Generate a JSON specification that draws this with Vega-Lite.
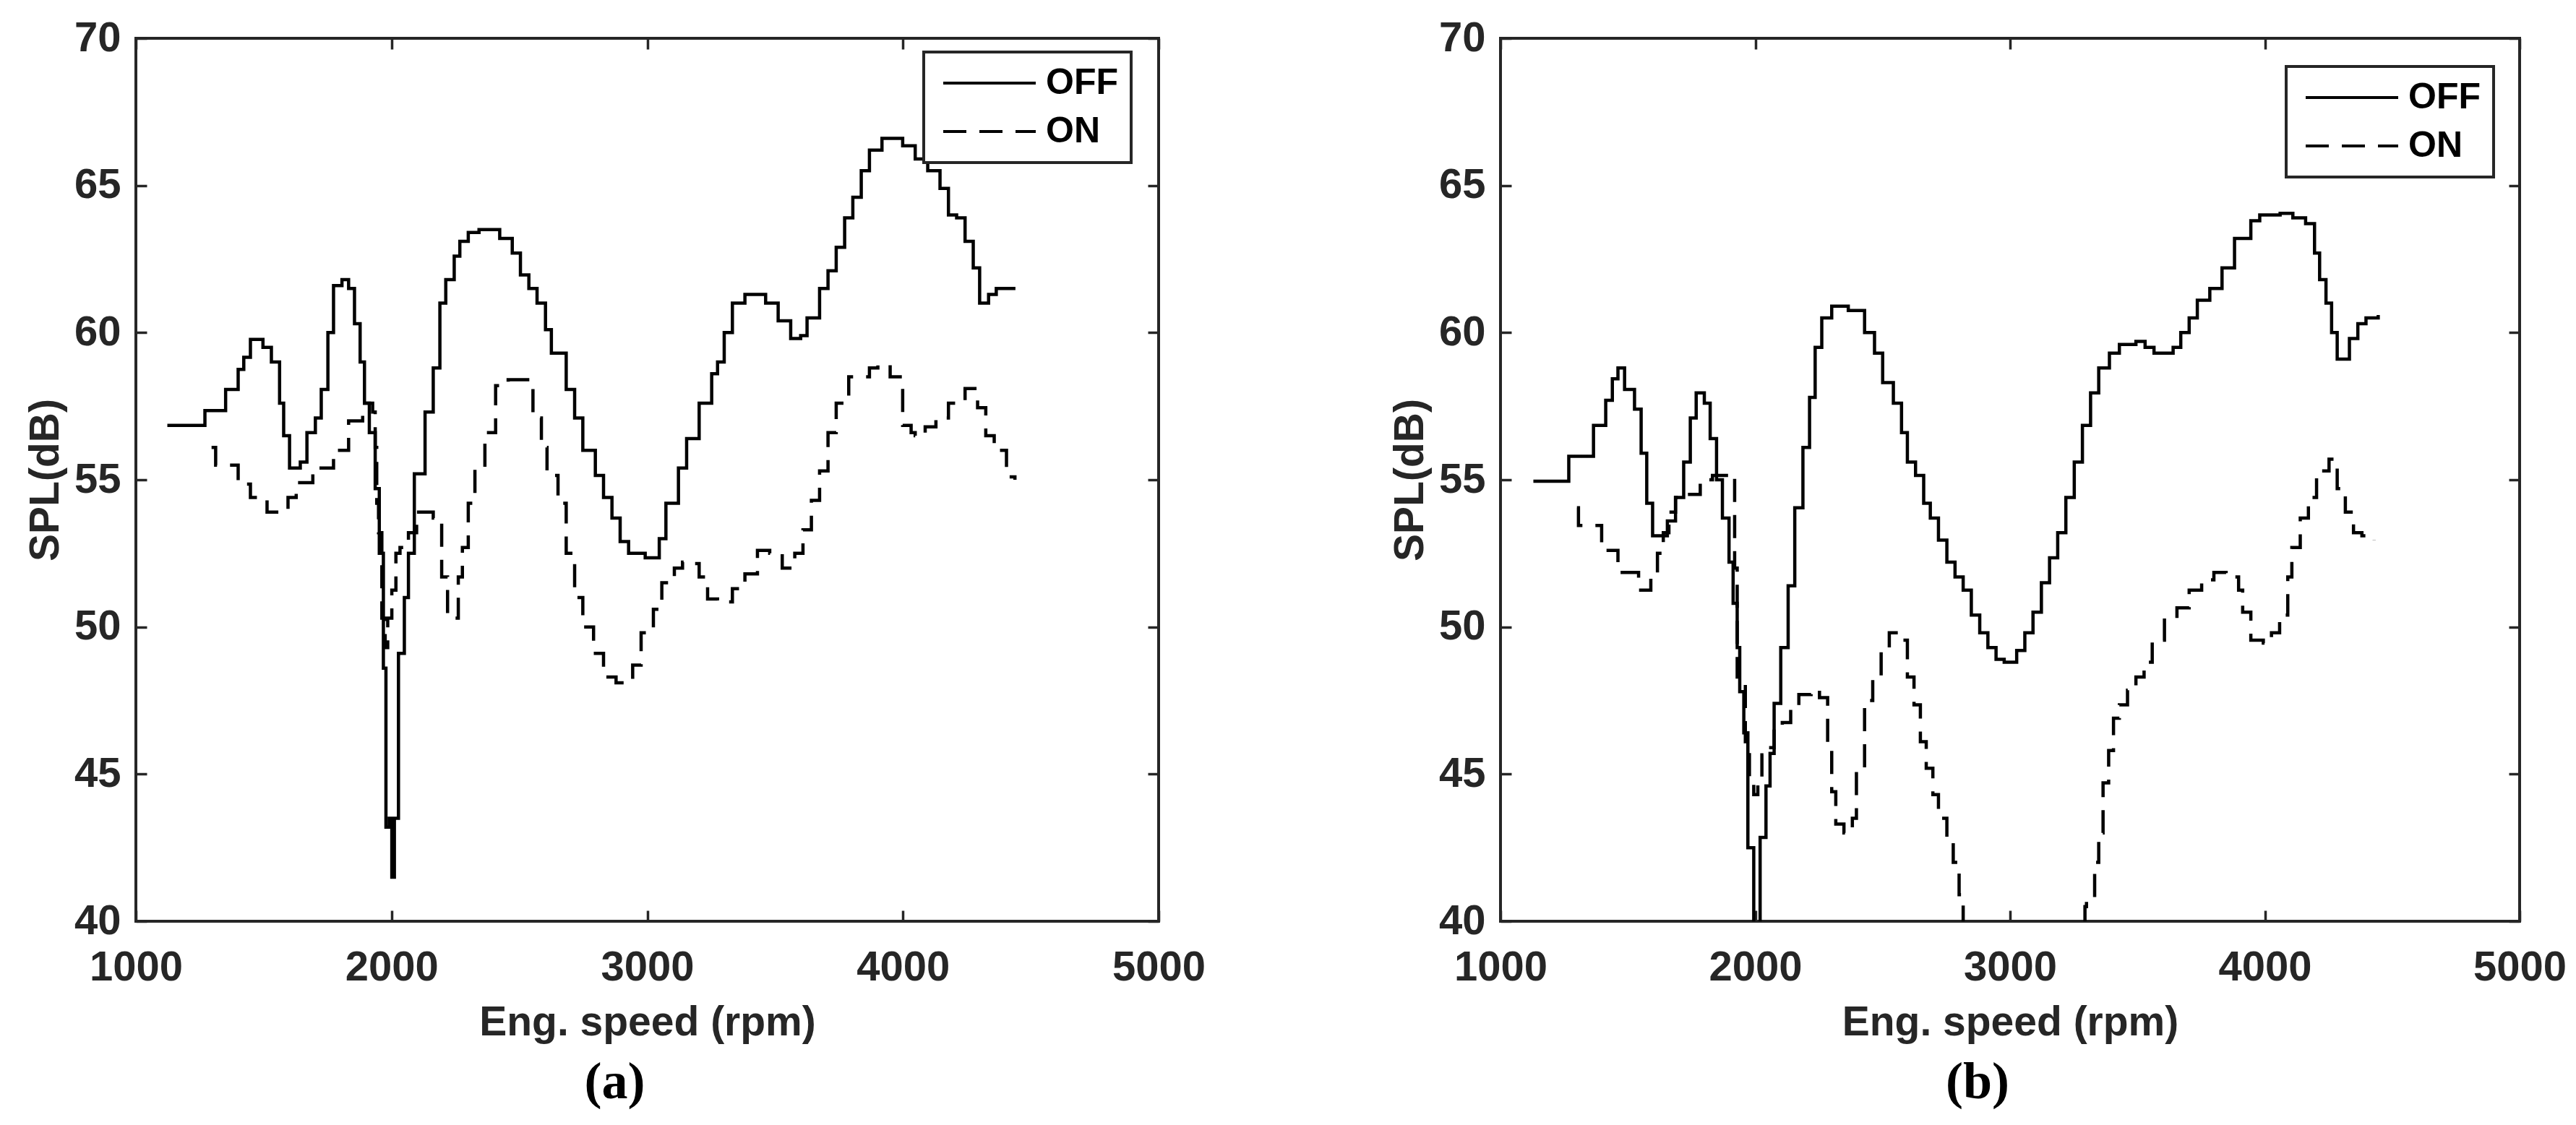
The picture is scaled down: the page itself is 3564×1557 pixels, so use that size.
{
  "$schema": "https://vega.github.io/schema/vega-lite/v6.json",
  "padding": {"left": 32, "top": 22, "right": 10, "bottom": 10},
  "background": "white",
  "datasets": {
    "a": [
      {"rpm": 1123, "spl": 56.85, "series": "OFF"}, {"rpm": 1270, "spl": 57.35, "series": "OFF"}, {"rpm": 1351, "spl": 58.07, "series": "OFF"}, {"rpm": 1400, "spl": 58.75, "series": "OFF"}, {"rpm": 1422, "spl": 59.16, "series": "OFF"}, {"rpm": 1448, "spl": 59.77, "series": "OFF"}, {"rpm": 1497, "spl": 59.5, "series": "OFF"}, {"rpm": 1530, "spl": 59.0, "series": "OFF"}, {"rpm": 1562, "spl": 57.6, "series": "OFF"}, {"rpm": 1578, "spl": 56.5, "series": "OFF"}, {"rpm": 1601, "spl": 55.4, "series": "OFF"}, {"rpm": 1643, "spl": 55.6, "series": "OFF"}, {"rpm": 1669, "spl": 56.6, "series": "OFF"}, {"rpm": 1702, "spl": 57.1, "series": "OFF"}, {"rpm": 1725, "spl": 58.07, "series": "OFF"}, {"rpm": 1751, "spl": 60.0, "series": "OFF"}, {"rpm": 1773, "spl": 61.6, "series": "OFF"}, {"rpm": 1806, "spl": 61.8, "series": "OFF"}, {"rpm": 1832, "spl": 61.5, "series": "OFF"}, {"rpm": 1855, "spl": 60.3, "series": "OFF"}, {"rpm": 1877, "spl": 59.0, "series": "OFF"}, {"rpm": 1894, "spl": 57.6, "series": "OFF"}, {"rpm": 1913, "spl": 56.6, "series": "OFF"}, {"rpm": 1936, "spl": 54.7, "series": "OFF"}, {"rpm": 1952, "spl": 52.5, "series": "OFF"}, {"rpm": 1968, "spl": 48.6, "series": "OFF"}, {"rpm": 1978, "spl": 43.2, "series": "OFF"}, {"rpm": 1991, "spl": 43.5, "series": "OFF"}, {"rpm": 2001, "spl": 41.5, "series": "OFF"}, {"rpm": 2011, "spl": 43.5, "series": "OFF"}, {"rpm": 2027, "spl": 49.1, "series": "OFF"}, {"rpm": 2050, "spl": 51.0, "series": "OFF"}, {"rpm": 2066, "spl": 52.5, "series": "OFF"}, {"rpm": 2089, "spl": 55.2, "series": "OFF"}, {"rpm": 2131, "spl": 57.3, "series": "OFF"}, {"rpm": 2163, "spl": 58.8, "series": "OFF"}, {"rpm": 2189, "spl": 61.0, "series": "OFF"}, {"rpm": 2212, "spl": 61.8, "series": "OFF"}, {"rpm": 2245, "spl": 62.6, "series": "OFF"}, {"rpm": 2267, "spl": 63.1, "series": "OFF"}, {"rpm": 2300, "spl": 63.4, "series": "OFF"}, {"rpm": 2342, "spl": 63.5, "series": "OFF"}, {"rpm": 2423, "spl": 63.2, "series": "OFF"}, {"rpm": 2472, "spl": 62.7, "series": "OFF"}, {"rpm": 2504, "spl": 61.96, "series": "OFF"}, {"rpm": 2537, "spl": 61.5, "series": "OFF"}, {"rpm": 2569, "spl": 61.0, "series": "OFF"}, {"rpm": 2602, "spl": 60.1, "series": "OFF"}, {"rpm": 2625, "spl": 59.3, "series": "OFF"}, {"rpm": 2683, "spl": 58.07, "series": "OFF"}, {"rpm": 2716, "spl": 57.1, "series": "OFF"}, {"rpm": 2748, "spl": 56.0, "series": "OFF"}, {"rpm": 2797, "spl": 55.15, "series": "OFF"}, {"rpm": 2829, "spl": 54.4, "series": "OFF"}, {"rpm": 2862, "spl": 53.7, "series": "OFF"}, {"rpm": 2894, "spl": 52.9, "series": "OFF"}, {"rpm": 2927, "spl": 52.5, "series": "OFF"}, {"rpm": 2992, "spl": 52.35, "series": "OFF"}, {"rpm": 3047, "spl": 53.0, "series": "OFF"}, {"rpm": 3073, "spl": 54.2, "series": "OFF"}, {"rpm": 3122, "spl": 55.4, "series": "OFF"}, {"rpm": 3154, "spl": 56.4, "series": "OFF"}, {"rpm": 3203, "spl": 57.6, "series": "OFF"}, {"rpm": 3252, "spl": 58.6, "series": "OFF"}, {"rpm": 3275, "spl": 59.0, "series": "OFF"}, {"rpm": 3301, "spl": 60.0, "series": "OFF"}, {"rpm": 3333, "spl": 61.0, "series": "OFF"}, {"rpm": 3382, "spl": 61.3, "series": "OFF"}, {"rpm": 3463, "spl": 61.0, "series": "OFF"}, {"rpm": 3512, "spl": 60.4, "series": "OFF"}, {"rpm": 3561, "spl": 59.8, "series": "OFF"}, {"rpm": 3600, "spl": 59.9, "series": "OFF"}, {"rpm": 3625, "spl": 60.5, "series": "OFF"}, {"rpm": 3674, "spl": 61.5, "series": "OFF"}, {"rpm": 3707, "spl": 62.1, "series": "OFF"}, {"rpm": 3739, "spl": 62.9, "series": "OFF"}, {"rpm": 3772, "spl": 63.9, "series": "OFF"}, {"rpm": 3804, "spl": 64.6, "series": "OFF"}, {"rpm": 3837, "spl": 65.5, "series": "OFF"}, {"rpm": 3869, "spl": 66.2, "series": "OFF"}, {"rpm": 3918, "spl": 66.6, "series": "OFF"}, {"rpm": 3999, "spl": 66.35, "series": "OFF"}, {"rpm": 4048, "spl": 65.9, "series": "OFF"}, {"rpm": 4097, "spl": 65.5, "series": "OFF"}, {"rpm": 4145, "spl": 64.9, "series": "OFF"}, {"rpm": 4178, "spl": 64.0, "series": "OFF"}, {"rpm": 4210, "spl": 63.9, "series": "OFF"}, {"rpm": 4243, "spl": 63.1, "series": "OFF"}, {"rpm": 4275, "spl": 62.2, "series": "OFF"}, {"rpm": 4300, "spl": 61.0, "series": "OFF"}, {"rpm": 4335, "spl": 61.3, "series": "OFF"}, {"rpm": 4365, "spl": 61.5, "series": "OFF"}, {"rpm": 4440, "spl": 61.5, "series": "OFF"},
      {"rpm": 1296, "spl": 56.1, "series": "ON"}, {"rpm": 1312, "spl": 55.5, "series": "ON"}, {"rpm": 1400, "spl": 54.85, "series": "ON"}, {"rpm": 1448, "spl": 54.4, "series": "ON"}, {"rpm": 1513, "spl": 53.9, "series": "ON"}, {"rpm": 1595, "spl": 54.4, "series": "ON"}, {"rpm": 1627, "spl": 54.9, "series": "ON"}, {"rpm": 1692, "spl": 55.4, "series": "ON"}, {"rpm": 1773, "spl": 56.0, "series": "ON"}, {"rpm": 1832, "spl": 57.0, "series": "ON"}, {"rpm": 1887, "spl": 57.6, "series": "ON"}, {"rpm": 1926, "spl": 57.3, "series": "ON"}, {"rpm": 1936, "spl": 56.1, "series": "ON"}, {"rpm": 1942, "spl": 54.2, "series": "ON"}, {"rpm": 1949, "spl": 53.2, "series": "ON"}, {"rpm": 1962, "spl": 50.3, "series": "ON"}, {"rpm": 1975, "spl": 49.3, "series": "ON"}, {"rpm": 1985, "spl": 50.3, "series": "ON"}, {"rpm": 2001, "spl": 51.25, "series": "ON"}, {"rpm": 2017, "spl": 52.5, "series": "ON"}, {"rpm": 2033, "spl": 52.7, "series": "ON"}, {"rpm": 2066, "spl": 53.2, "series": "ON"}, {"rpm": 2098, "spl": 53.9, "series": "ON"}, {"rpm": 2163, "spl": 53.7, "series": "ON"}, {"rpm": 2196, "spl": 51.7, "series": "ON"}, {"rpm": 2219, "spl": 50.3, "series": "ON"}, {"rpm": 2261, "spl": 51.7, "series": "ON"}, {"rpm": 2277, "spl": 52.7, "series": "ON"}, {"rpm": 2300, "spl": 54.2, "series": "ON"}, {"rpm": 2326, "spl": 55.4, "series": "ON"}, {"rpm": 2365, "spl": 56.6, "series": "ON"}, {"rpm": 2407, "spl": 58.2, "series": "ON"}, {"rpm": 2456, "spl": 58.4, "series": "ON"}, {"rpm": 2553, "spl": 57.1, "series": "ON"}, {"rpm": 2586, "spl": 56.1, "series": "ON"}, {"rpm": 2608, "spl": 55.15, "series": "ON"}, {"rpm": 2651, "spl": 54.2, "series": "ON"}, {"rpm": 2683, "spl": 52.5, "series": "ON"}, {"rpm": 2716, "spl": 51.0, "series": "ON"}, {"rpm": 2748, "spl": 50.0, "series": "ON"}, {"rpm": 2790, "spl": 49.1, "series": "ON"}, {"rpm": 2829, "spl": 48.3, "series": "ON"}, {"rpm": 2878, "spl": 48.1, "series": "ON"}, {"rpm": 2943, "spl": 48.7, "series": "ON"}, {"rpm": 2976, "spl": 49.8, "series": "ON"}, {"rpm": 3024, "spl": 50.6, "series": "ON"}, {"rpm": 3057, "spl": 51.5, "series": "ON"}, {"rpm": 3106, "spl": 52.0, "series": "ON"}, {"rpm": 3138, "spl": 52.2, "series": "ON"}, {"rpm": 3171, "spl": 52.15, "series": "ON"}, {"rpm": 3203, "spl": 51.7, "series": "ON"}, {"rpm": 3236, "spl": 50.95, "series": "ON"}, {"rpm": 3275, "spl": 50.85, "series": "ON"}, {"rpm": 3333, "spl": 51.3, "series": "ON"}, {"rpm": 3382, "spl": 51.8, "series": "ON"}, {"rpm": 3431, "spl": 52.6, "series": "ON"}, {"rpm": 3479, "spl": 52.5, "series": "ON"}, {"rpm": 3528, "spl": 52.0, "series": "ON"}, {"rpm": 3577, "spl": 52.5, "series": "ON"}, {"rpm": 3609, "spl": 53.3, "series": "ON"}, {"rpm": 3642, "spl": 54.3, "series": "ON"}, {"rpm": 3674, "spl": 55.3, "series": "ON"}, {"rpm": 3707, "spl": 56.6, "series": "ON"}, {"rpm": 3739, "spl": 57.6, "series": "ON"}, {"rpm": 3788, "spl": 58.5, "series": "ON"}, {"rpm": 3869, "spl": 58.8, "series": "ON"}, {"rpm": 3902, "spl": 58.9, "series": "ON"}, {"rpm": 3950, "spl": 58.5, "series": "ON"}, {"rpm": 3999, "spl": 56.85, "series": "ON"}, {"rpm": 4032, "spl": 56.6, "series": "ON"}, {"rpm": 4048, "spl": 56.5, "series": "ON"}, {"rpm": 4087, "spl": 56.8, "series": "ON"}, {"rpm": 4129, "spl": 57.1, "series": "ON"}, {"rpm": 4178, "spl": 57.6, "series": "ON"}, {"rpm": 4243, "spl": 58.1, "series": "ON"}, {"rpm": 4292, "spl": 57.45, "series": "ON"}, {"rpm": 4324, "spl": 56.5, "series": "ON"}, {"rpm": 4357, "spl": 56.0, "series": "ON"}, {"rpm": 4405, "spl": 55.1, "series": "ON"}, {"rpm": 4438, "spl": 55.0, "series": "ON"}
    ],
    "b": [
      {"rpm": 1129, "spl": 54.95, "series": "OFF"}, {"rpm": 1268, "spl": 55.8, "series": "OFF"}, {"rpm": 1365, "spl": 56.85, "series": "OFF"}, {"rpm": 1413, "spl": 57.7, "series": "OFF"}, {"rpm": 1439, "spl": 58.43, "series": "OFF"}, {"rpm": 1461, "spl": 58.8, "series": "OFF"}, {"rpm": 1487, "spl": 58.07, "series": "OFF"}, {"rpm": 1526, "spl": 57.4, "series": "OFF"}, {"rpm": 1552, "spl": 55.9, "series": "OFF"}, {"rpm": 1574, "spl": 54.2, "series": "OFF"}, {"rpm": 1597, "spl": 53.1, "series": "OFF"}, {"rpm": 1655, "spl": 53.6, "series": "OFF"}, {"rpm": 1687, "spl": 54.4, "series": "OFF"}, {"rpm": 1719, "spl": 55.6, "series": "OFF"}, {"rpm": 1745, "spl": 57.1, "series": "OFF"}, {"rpm": 1768, "spl": 57.95, "series": "OFF"}, {"rpm": 1800, "spl": 57.6, "series": "OFF"}, {"rpm": 1823, "spl": 56.4, "series": "OFF"}, {"rpm": 1848, "spl": 55.0, "series": "OFF"}, {"rpm": 1871, "spl": 53.7, "series": "OFF"}, {"rpm": 1897, "spl": 52.2, "series": "OFF"}, {"rpm": 1913, "spl": 50.8, "series": "OFF"}, {"rpm": 1929, "spl": 49.3, "series": "OFF"}, {"rpm": 1939, "spl": 47.8, "series": "OFF"}, {"rpm": 1955, "spl": 46.4, "series": "OFF"}, {"rpm": 1971, "spl": 42.5, "series": "OFF"}, {"rpm": 1994, "spl": 37.5, "series": "OFF"}, {"rpm": 2019, "spl": 42.85, "series": "OFF"}, {"rpm": 2042, "spl": 44.6, "series": "OFF"}, {"rpm": 2058, "spl": 45.7, "series": "OFF"}, {"rpm": 2074, "spl": 47.4, "series": "OFF"}, {"rpm": 2100, "spl": 49.3, "series": "OFF"}, {"rpm": 2129, "spl": 51.4, "series": "OFF"}, {"rpm": 2155, "spl": 54.05, "series": "OFF"}, {"rpm": 2187, "spl": 56.1, "series": "OFF"}, {"rpm": 2213, "spl": 57.8, "series": "OFF"}, {"rpm": 2235, "spl": 59.5, "series": "OFF"}, {"rpm": 2261, "spl": 60.5, "series": "OFF"}, {"rpm": 2300, "spl": 60.9, "series": "OFF"}, {"rpm": 2365, "spl": 60.75, "series": "OFF"}, {"rpm": 2429, "spl": 60.0, "series": "OFF"}, {"rpm": 2468, "spl": 59.3, "series": "OFF"}, {"rpm": 2500, "spl": 58.3, "series": "OFF"}, {"rpm": 2542, "spl": 57.6, "series": "OFF"}, {"rpm": 2574, "spl": 56.6, "series": "OFF"}, {"rpm": 2597, "spl": 55.6, "series": "OFF"}, {"rpm": 2629, "spl": 55.15, "series": "OFF"}, {"rpm": 2661, "spl": 54.2, "series": "OFF"}, {"rpm": 2687, "spl": 53.7, "series": "OFF"}, {"rpm": 2719, "spl": 52.95, "series": "OFF"}, {"rpm": 2752, "spl": 52.2, "series": "OFF"}, {"rpm": 2784, "spl": 51.7, "series": "OFF"}, {"rpm": 2816, "spl": 51.25, "series": "OFF"}, {"rpm": 2848, "spl": 50.4, "series": "OFF"}, {"rpm": 2881, "spl": 49.8, "series": "OFF"}, {"rpm": 2913, "spl": 49.3, "series": "OFF"}, {"rpm": 2945, "spl": 48.9, "series": "OFF"}, {"rpm": 2977, "spl": 48.8, "series": "OFF"}, {"rpm": 3026, "spl": 49.2, "series": "OFF"}, {"rpm": 3058, "spl": 49.8, "series": "OFF"}, {"rpm": 3090, "spl": 50.5, "series": "OFF"}, {"rpm": 3123, "spl": 51.5, "series": "OFF"}, {"rpm": 3155, "spl": 52.35, "series": "OFF"}, {"rpm": 3187, "spl": 53.2, "series": "OFF"}, {"rpm": 3219, "spl": 54.4, "series": "OFF"}, {"rpm": 3252, "spl": 55.6, "series": "OFF"}, {"rpm": 3284, "spl": 56.85, "series": "OFF"}, {"rpm": 3316, "spl": 57.95, "series": "OFF"}, {"rpm": 3348, "spl": 58.8, "series": "OFF"}, {"rpm": 3390, "spl": 59.3, "series": "OFF"}, {"rpm": 3429, "spl": 59.6, "series": "OFF"}, {"rpm": 3494, "spl": 59.7, "series": "OFF"}, {"rpm": 3530, "spl": 59.5, "series": "OFF"}, {"rpm": 3565, "spl": 59.3, "series": "OFF"}, {"rpm": 3640, "spl": 59.5, "series": "OFF"}, {"rpm": 3670, "spl": 60.0, "series": "OFF"}, {"rpm": 3703, "spl": 60.5, "series": "OFF"}, {"rpm": 3735, "spl": 61.1, "series": "OFF"}, {"rpm": 3784, "spl": 61.5, "series": "OFF"}, {"rpm": 3832, "spl": 62.2, "series": "OFF"}, {"rpm": 3881, "spl": 63.2, "series": "OFF"}, {"rpm": 3945, "spl": 63.8, "series": "OFF"}, {"rpm": 3980, "spl": 64.0, "series": "OFF"}, {"rpm": 4060, "spl": 64.05, "series": "OFF"}, {"rpm": 4110, "spl": 63.9, "series": "OFF"}, {"rpm": 4160, "spl": 63.7, "series": "OFF"}, {"rpm": 4195, "spl": 62.7, "series": "OFF"}, {"rpm": 4215, "spl": 61.8, "series": "OFF"}, {"rpm": 4240, "spl": 61.0, "series": "OFF"}, {"rpm": 4262, "spl": 60.0, "series": "OFF"}, {"rpm": 4284, "spl": 59.1, "series": "OFF"}, {"rpm": 4332, "spl": 59.8, "series": "OFF"}, {"rpm": 4365, "spl": 60.3, "series": "OFF"}, {"rpm": 4397, "spl": 60.5, "series": "OFF"}, {"rpm": 4445, "spl": 60.6, "series": "OFF"},
      {"rpm": 1300, "spl": 54.05, "series": "ON"}, {"rpm": 1306, "spl": 53.45, "series": "ON"}, {"rpm": 1397, "spl": 52.6, "series": "ON"}, {"rpm": 1461, "spl": 51.85, "series": "ON"}, {"rpm": 1542, "spl": 51.25, "series": "ON"}, {"rpm": 1590, "spl": 51.7, "series": "ON"}, {"rpm": 1616, "spl": 52.5, "series": "ON"}, {"rpm": 1639, "spl": 53.2, "series": "ON"}, {"rpm": 1661, "spl": 53.9, "series": "ON"}, {"rpm": 1687, "spl": 54.4, "series": "ON"}, {"rpm": 1735, "spl": 54.5, "series": "ON"}, {"rpm": 1784, "spl": 55.0, "series": "ON"}, {"rpm": 1832, "spl": 55.15, "series": "ON"}, {"rpm": 1897, "spl": 55.2, "series": "ON"}, {"rpm": 1919, "spl": 52.0, "series": "ON"}, {"rpm": 1929, "spl": 48.3, "series": "ON"}, {"rpm": 1961, "spl": 46.1, "series": "ON"}, {"rpm": 1977, "spl": 44.9, "series": "ON"}, {"rpm": 1994, "spl": 44.3, "series": "ON"}, {"rpm": 2010, "spl": 44.9, "series": "ON"}, {"rpm": 2026, "spl": 45.65, "series": "ON"}, {"rpm": 2042, "spl": 45.9, "series": "ON"}, {"rpm": 2074, "spl": 46.6, "series": "ON"}, {"rpm": 2106, "spl": 46.75, "series": "ON"}, {"rpm": 2139, "spl": 47.4, "series": "ON"}, {"rpm": 2171, "spl": 47.7, "series": "ON"}, {"rpm": 2219, "spl": 47.85, "series": "ON"}, {"rpm": 2252, "spl": 47.6, "series": "ON"}, {"rpm": 2284, "spl": 45.9, "series": "ON"}, {"rpm": 2300, "spl": 44.4, "series": "ON"}, {"rpm": 2316, "spl": 43.3, "series": "ON"}, {"rpm": 2348, "spl": 43.0, "series": "ON"}, {"rpm": 2381, "spl": 43.5, "series": "ON"}, {"rpm": 2397, "spl": 45.2, "series": "ON"}, {"rpm": 2429, "spl": 47.5, "series": "ON"}, {"rpm": 2461, "spl": 48.3, "series": "ON"}, {"rpm": 2494, "spl": 49.3, "series": "ON"}, {"rpm": 2526, "spl": 49.8, "series": "ON"}, {"rpm": 2574, "spl": 49.55, "series": "ON"}, {"rpm": 2597, "spl": 48.3, "series": "ON"}, {"rpm": 2623, "spl": 47.35, "series": "ON"}, {"rpm": 2648, "spl": 46.1, "series": "ON"}, {"rpm": 2671, "spl": 45.2, "series": "ON"}, {"rpm": 2697, "spl": 44.3, "series": "ON"}, {"rpm": 2719, "spl": 43.5, "series": "ON"}, {"rpm": 2752, "spl": 42.75, "series": "ON"}, {"rpm": 2777, "spl": 42.0, "series": "ON"}, {"rpm": 2800, "spl": 40.9, "series": "ON"}, {"rpm": 2816, "spl": 38.0, "series": "ON"}, {"rpm": 3294, "spl": 40.5, "series": "ON"}, {"rpm": 3300, "spl": 40.8, "series": "ON"}, {"rpm": 3332, "spl": 42.0, "series": "ON"}, {"rpm": 3348, "spl": 43.0, "series": "ON"}, {"rpm": 3365, "spl": 44.7, "series": "ON"}, {"rpm": 3387, "spl": 45.8, "series": "ON"}, {"rpm": 3406, "spl": 46.9, "series": "ON"}, {"rpm": 3429, "spl": 47.35, "series": "ON"}, {"rpm": 3461, "spl": 47.85, "series": "ON"}, {"rpm": 3494, "spl": 48.3, "series": "ON"}, {"rpm": 3526, "spl": 48.8, "series": "ON"}, {"rpm": 3558, "spl": 49.55, "series": "ON"}, {"rpm": 3606, "spl": 50.3, "series": "ON"}, {"rpm": 3655, "spl": 50.65, "series": "ON"}, {"rpm": 3703, "spl": 51.25, "series": "ON"}, {"rpm": 3752, "spl": 51.6, "series": "ON"}, {"rpm": 3800, "spl": 51.85, "series": "ON"}, {"rpm": 3848, "spl": 51.7, "series": "ON"}, {"rpm": 3897, "spl": 51.25, "series": "ON"}, {"rpm": 3913, "spl": 50.5, "series": "ON"}, {"rpm": 3945, "spl": 49.55, "series": "ON"}, {"rpm": 3994, "spl": 49.45, "series": "ON"}, {"rpm": 4026, "spl": 49.8, "series": "ON"}, {"rpm": 4058, "spl": 50.4, "series": "ON"}, {"rpm": 4090, "spl": 51.7, "series": "ON"}, {"rpm": 4106, "spl": 52.7, "series": "ON"}, {"rpm": 4139, "spl": 53.7, "series": "ON"}, {"rpm": 4171, "spl": 54.4, "series": "ON"}, {"rpm": 4203, "spl": 55.3, "series": "ON"}, {"rpm": 4252, "spl": 55.7, "series": "ON"}, {"rpm": 4284, "spl": 54.7, "series": "ON"}, {"rpm": 4316, "spl": 53.9, "series": "ON"}, {"rpm": 4348, "spl": 53.2, "series": "ON"}, {"rpm": 4381, "spl": 53.1, "series": "ON"}, {"rpm": 4429, "spl": 52.95, "series": "ON"}
    ]
  },
  "hconcat": [
    {
      "data": {"name": "a"},
      "width": 1415,
      "height": 1222,
      "title": {"text": "(a)", "orient": "bottom", "anchor": "middle", "frame": "group", "dx": -45, "offset": 20, "font": "Liberation Serif", "fontSize": 72, "fontWeight": "bold", "color": "black"},
      "layer": [
        {
          "mark": {"type": "line", "interpolate": "step-after", "clip": true, "strokeWidth": 4.5, "color": "black"},
          "encoding": {
            "x": {"field": "rpm", "type": "quantitative", "scale": {"domain": [1000, 5000], "nice": false, "zero": false}, "axis": {"orient": "bottom", "values": [1000, 2000, 3000, 4000, 5000], "title": "Eng. speed (rpm)", "format": "d", "labelPadding": 50, "titlePadding": 19}},
            "y": {"field": "spl", "type": "quantitative", "scale": {"domain": [40, 70], "nice": false, "zero": false}, "axis": {"orient": "left", "values": [40, 45, 50, 55, 60, 65, 70], "title": "SPL(dB)", "labelPadding": 36, "titlePadding": 10}},
            "strokeDash": {"field": "series", "type": "nominal", "scale": {"domain": ["OFF", "ON"], "range": [[1, 0], [32, 18]]},
              "legend": {"orient": "none", "legendX": 1090, "legendY": 19, "title": null, "symbolType": "stroke", "symbolSize": 16384, "symbolStrokeWidth": 4, "symbolStrokeColor": "black", "symbolOffset": 7, "clipHeight": 50, "labelFont": "Liberation Sans", "labelFontWeight": "bold", "labelFontSize": 50, "labelColor": "black", "labelOffset": 12, "strokeColor": "#262626", "fillColor": "white", "padding": 18, "rowPadding": 17, "encode": {"legend": {"update": {"strokeWidth": {"value": 4}}}}}}
          }
        },
        {
          "mark": {"type": "line", "interpolate": "step-after", "strokeOpacity": 0, "clip": true},
          "encoding": {
            "x": {"field": "rpm", "type": "quantitative", "scale": {"domain": [1000, 5000], "nice": false, "zero": false}, "axis": {"orient": "top", "values": [1000, 2000, 3000, 4000, 5000], "labels": false, "title": null}},
            "y": {"field": "spl", "type": "quantitative", "scale": {"domain": [40, 70], "nice": false, "zero": false}, "axis": {"orient": "right", "values": [40, 45, 50, 55, 60, 65, 70], "labels": false, "title": null}},
            "detail": {"field": "series", "type": "nominal"}
          }
        }
      ],
      "resolve": {"scale": {"x": "independent", "y": "independent"}, "axis": {"x": "independent", "y": "independent"}}
    },
    {
      "data": {"name": "b"},
      "width": 1410,
      "height": 1222,
      "title": {"text": "(b)", "orient": "bottom", "anchor": "middle", "frame": "group", "dx": -45, "offset": 20, "font": "Liberation Serif", "fontSize": 72, "fontWeight": "bold", "color": "black"},
      "layer": [
        {
          "mark": {"type": "line", "interpolate": "step-after", "clip": true, "strokeWidth": 4.5, "color": "black"},
          "encoding": {
            "x": {"field": "rpm", "type": "quantitative", "scale": {"domain": [1000, 5000], "nice": false, "zero": false}, "axis": {"orient": "bottom", "values": [1000, 2000, 3000, 4000, 5000], "title": "Eng. speed (rpm)", "format": "d", "labelPadding": 50, "titlePadding": 19}},
            "y": {"field": "spl", "type": "quantitative", "scale": {"domain": [40, 70], "nice": false, "zero": false}, "axis": {"orient": "left", "values": [40, 45, 50, 55, 60, 65, 70], "title": "SPL(dB)", "labelPadding": 36, "titlePadding": 10}},
            "strokeDash": {"field": "series", "type": "nominal", "scale": {"domain": ["OFF", "ON"], "range": [[1, 0], [32, 18]]},
              "legend": {"orient": "none", "legendX": 1087, "legendY": 39, "title": null, "symbolType": "stroke", "symbolSize": 16384, "symbolStrokeWidth": 4, "symbolStrokeColor": "black", "symbolOffset": 7, "clipHeight": 50, "labelFont": "Liberation Sans", "labelFontWeight": "bold", "labelFontSize": 50, "labelColor": "black", "labelOffset": 12, "strokeColor": "#262626", "fillColor": "white", "padding": 18, "rowPadding": 17, "encode": {"legend": {"update": {"strokeWidth": {"value": 4}}}}}}
          }
        },
        {
          "mark": {"type": "line", "interpolate": "step-after", "strokeOpacity": 0, "clip": true},
          "encoding": {
            "x": {"field": "rpm", "type": "quantitative", "scale": {"domain": [1000, 5000], "nice": false, "zero": false}, "axis": {"orient": "top", "values": [1000, 2000, 3000, 4000, 5000], "labels": false, "title": null}},
            "y": {"field": "spl", "type": "quantitative", "scale": {"domain": [40, 70], "nice": false, "zero": false}, "axis": {"orient": "right", "values": [40, 45, 50, 55, 60, 65, 70], "labels": false, "title": null}},
            "detail": {"field": "series", "type": "nominal"}
          }
        }
      ],
      "resolve": {"scale": {"x": "independent", "y": "independent"}, "axis": {"x": "independent", "y": "independent"}}
    }
  ],
  "spacing": 473,
  "bounds": "flush",
  "resolve": {"scale": {"strokeDash": "independent"}, "legend": {"strokeDash": "independent"}},
  "config": {
    "font": "Liberation Sans",
    "view": {"stroke": "#262626", "strokeWidth": 4},
    "axis": {"labelFont": "Liberation Sans", "labelFontWeight": "bold", "labelFontSize": 58, "labelColor": "#262626", "titleFont": "Liberation Sans", "titleFontWeight": "bold", "titleFontSize": 57, "titleColor": "#262626", "tickColor": "#262626", "tickWidth": 3.5, "tickSize": -15, "domain": false, "grid": false, "labelFlush": false, "labelOverlap": false, "labelBound": false}
  }
}
